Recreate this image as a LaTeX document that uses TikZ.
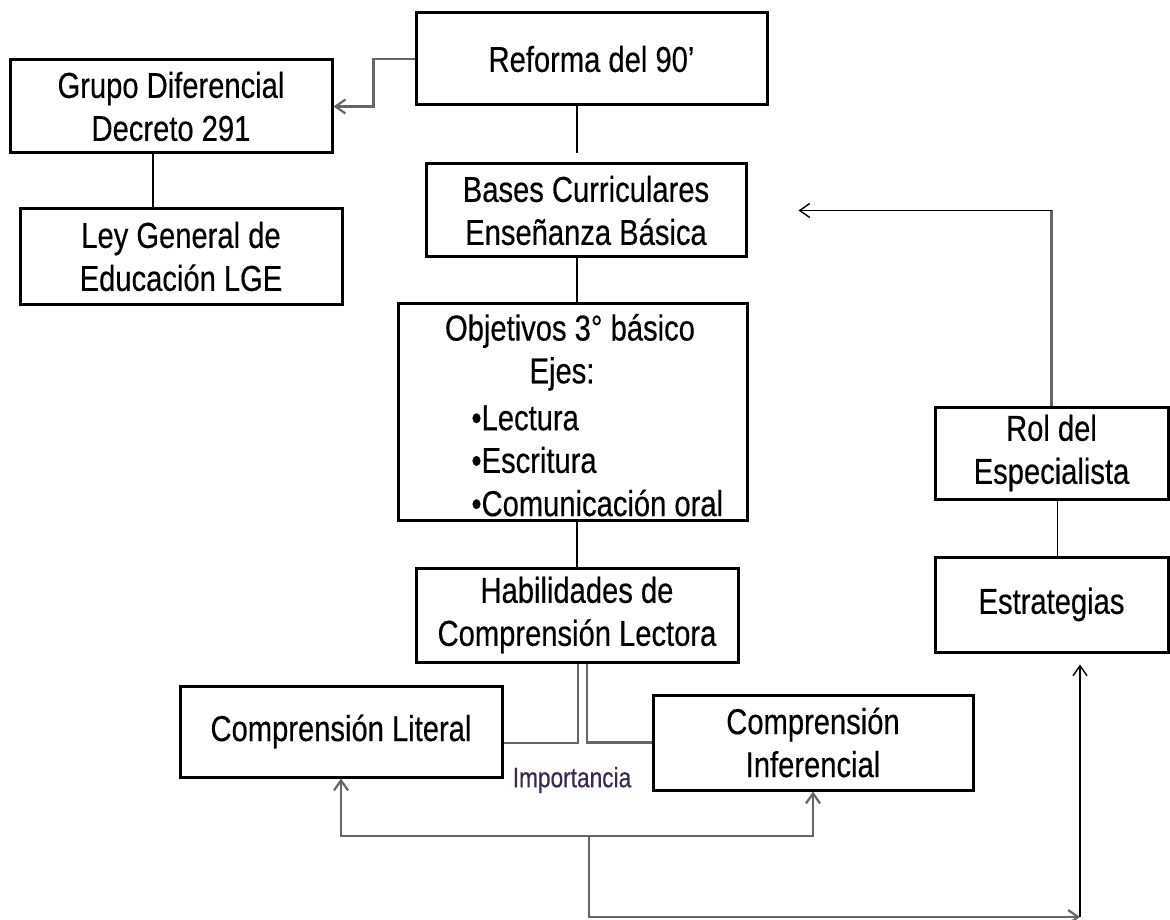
\documentclass[tikz,border=0pt]{standalone}
\usepackage{fontspec}
\usepackage{tikz}
\usetikzlibrary{arrows.meta}
\newfontfamily\arialn[FakeStretch=0.81,FakeBold=0.35]{Liberation Sans}
\definecolor{importancia}{RGB}{60,40,80}

\begin{document}
\begin{tikzpicture}[x=0.5pt,y=-0.5pt,
    >={Straight Barb[length=5pt,width=7pt]},
    box/.style={draw,line width=1.5pt,inner sep=0pt,align=center,
      font=\arialn\fontsize{18pt}{21.5pt}\selectfont},
    txt/.style={inner sep=0pt,font=\arialn\fontsize{18pt}{21.5pt}\selectfont},
    link/.style={line width=0.7pt},
    glink/.style={line width=1.1pt,black!60}]
          \useasboundingbox (0,0) rectangle (1170,919);

          \node[box,minimum width=175.5pt,minimum height=46pt] (ref) at (591.5,59) {Reforma del 90’};
          \node[box,minimum width=161pt,minimum height=46.5pt] (grupo) at (171,106.5) {Grupo Diferencial\\Decreto 291};
          \node[box,minimum width=161pt,minimum height=47.5pt] (ley) at (181,256.5) {Ley General de\\Educación LGE};
          \node[box,minimum width=160pt,minimum height=46.5pt] (bases) at (586,210.5) {Bases Curriculares\\Enseñanza Básica};
          \node[box,minimum width=174.5pt,minimum height=108.5pt] (obj) at (572.5,411.5) {};
          \node[txt] (obja) at (570,331) {Objetivos 3° básico};
          \node[txt] (objb) at (562,374) {Ejes:};
          \node[txt,anchor=west] (objc) at (471,418) {•Lectura};
          \node[txt,anchor=west] (objd) at (471,460) {•Escritura};
          \node[txt,anchor=west] (obje) at (471,503) {•Comunicación oral};
          \node[box,minimum width=161pt,minimum height=47pt] (hab) at (577,615) {Habilidades de\\Comprensión Lectora};
          \node[box,minimum width=161pt,minimum height=45.5pt] (lit) at (341,731.5) {Comprensión Literal};
          \node[box,minimum width=160pt,minimum height=47.5pt] (inf) at (813,742.5) {Comprensión\\Inferencial};
          \node[box,minimum width=116.5pt,minimum height=46pt] (rol) at (1051.5,453) {Rol del\\Especialista};
          \node[box,minimum width=116.5pt,minimum height=47.5pt] (est) at (1051.5,604.5) {Estrategias};
          \node[inner sep=0pt,text=importancia,font=\arialn\fontsize{14pt}{16pt}\selectfont] (imp) at (572,780) {Importancia};

          \coordinate (spine) at (577,0);
          \coordinate (hub) at (589,836);
          \coordinate (corner) at (1080,917);

          \draw[glink,->] (ref.west) -- ++(-41,0) |- (grupo.east);
          \draw[link] ([xshift=-9pt]grupo.south) -- ([xshift=-9pt]grupo.south |- ley.north);
          \draw[link] (ref.south -| spine) -- ([yshift=4.5pt]bases.north -| spine);
          \draw[link] (bases.south -| spine) -- (obj.north -| spine);
          \draw[link] (obj.south -| spine) -- (hab.north -| spine);
          \draw[glink] ([xshift=0.5pt]hab.south) |- ([yshift=-5.75pt]lit.east);
          \draw[glink] ([xshift=5pt]hab.south) |- (inf.west);
          \draw[glink,->] (hub) -| (lit.south);
          \draw[glink,->] (hub) -| (inf.south);
          \draw[glink,->] (hub) |- (corner);
          \draw[link,->] (corner) -- ([yshift=-5.5pt]est.south -| corner);
          \draw[link] ([xshift=3pt]rol.south) -- ([xshift=3pt]est.north);
          \draw[glink] (rol.north) -- (rol.north |- bases.east);
          \draw[link,->] (rol.north |- bases.east) -- ([xshift=25.5pt]bases.east);

        \end{tikzpicture}
\end{document}
